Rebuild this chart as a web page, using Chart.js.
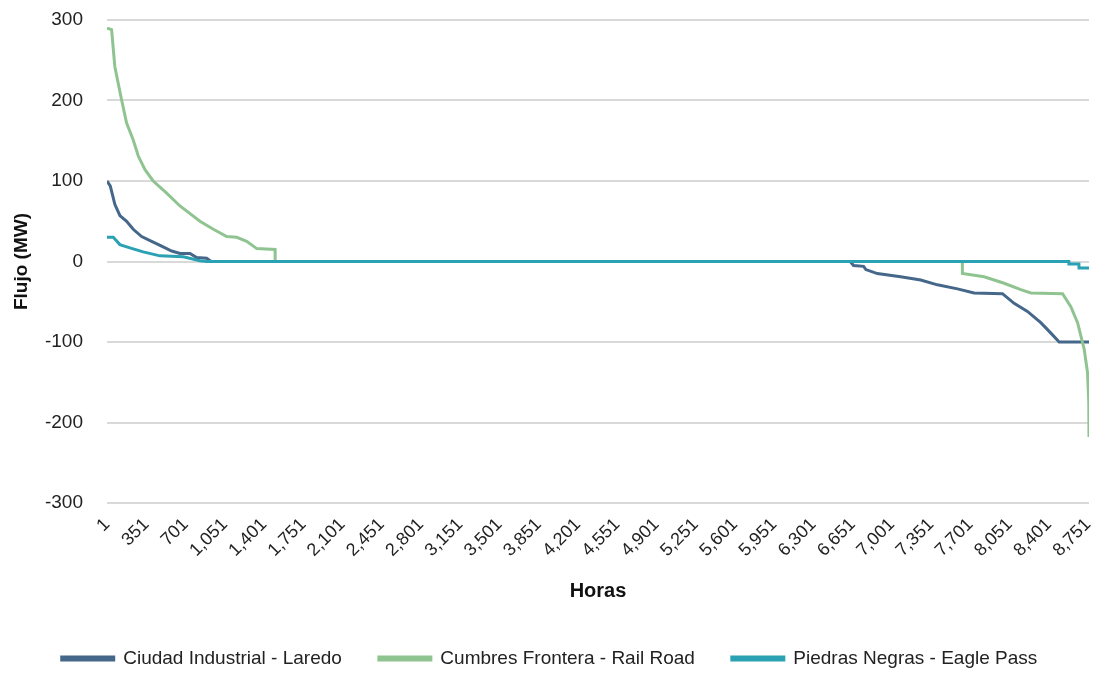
<!DOCTYPE html>
<html>
<head>
<meta charset="utf-8">
<script src="https://cdn.jsdelivr.net/npm/chart.js@4.4.1/dist/chart.umd.min.js"></script>
<style>
  html, body { margin: 0; padding: 0; background: #fff; }
  #wrap { width: 1093px; height: 673px; }
</style>
</head>
<body>
<div id="wrap"><canvas id="mycanvas" width="1093" height="673"></canvas></div>
<script>
// duration curves, hours vs MW
var ciudadHoras = [1, 30, 71, 116, 176, 235, 310, 399, 488, 578, 652, 741, 800, 890, 930, 6630, 6660, 6750, 6770, 6872, 7080, 7259, 7408, 7587, 7735, 7988, 8092, 8211, 8330, 8420, 8494, 8760];
var ciudadFlujo = [100, 94, 71, 57, 50, 40, 31, 25, 19, 13, 10, 10, 5, 4, 0, 0, -5, -6, -10, -15, -19, -23, -29, -34, -39, -40, -52, -62, -76, -89, -100, -100];

var cumbresHoras = [1, 42, 71, 131, 176, 235, 280, 340, 413, 533, 652, 830, 950, 1069, 1158, 1247, 1337, 1500, 1501, 7630, 7631, 7824, 8003, 8152, 8241, 8524, 8598, 8658, 8717, 8747, 8758, 8760];
var cumbresFlujo = [290, 288, 242, 201, 172, 151, 131, 114, 100, 85, 69, 50, 40, 31, 30, 25, 16, 15, 0, 0, -15, -19, -27, -35, -39, -40, -56, -76, -109, -138, -175, -218];

var piedrasHoras = [1, 57, 116, 205, 324, 473, 681, 830, 890, 8580, 8581, 8670, 8671, 8760];
var piedrasFlujo = [30, 30, 21, 17, 12, 7, 6, 1, 0, 0, -3, -3, -8, -8];

var tickHoras = [1, 351, 701, 1051, 1401, 1751, 2101, 2451, 2801, 3151, 3501, 3851, 4201, 4551, 4901, 5251, 5601, 5951, 6301, 6651, 7001, 7351, 7701, 8051, 8401, 8751];

function puntos(horas, flujo) {
	var pts = [];
	for (var i in horas) {
		pts.push({ x: horas[i], y: flujo[i] });
	}
	return pts;
}

var fuente = "'Liberation Sans', Arial, sans-serif";

var chartdata = {
	datasets: [
		{
			label: 'Ciudad Industrial - Laredo',
			data: puntos(ciudadHoras, ciudadFlujo),
			borderColor: '#44678a',
			backgroundColor: '#44678a',
			order: 2
		},
		{
			label: 'Cumbres Frontera - Rail Road',
			data: puntos(cumbresHoras, cumbresFlujo),
			borderColor: '#8fc490',
			backgroundColor: '#8fc490',
			order: 1
		},
		{
			label: 'Piedras Negras - Eagle Pass',
			data: puntos(piedrasHoras, piedrasFlujo),
			borderColor: '#2ba1b4',
			backgroundColor: '#2ba1b4',
			order: 0
		}
	]
};

var ctx = document.getElementById('mycanvas');
var grafica = new Chart(ctx, {
	type: 'line',
	data: chartdata,
	options: {
		responsive: false,
		animation: false,
		layout: { padding: { top: 20, right: 4, left: 10, bottom: -5 } },
		elements: {
			point: { radius: 0 },
			line: { borderWidth: 3, tension: 0 }
		},
		plugins: {
			tooltip: { enabled: false },
			legend: {
				position: 'bottom',
				labels: {
					boxWidth: 52,
					boxHeight: 3,
					padding: 37,
					color: '#222',
					font: { family: fuente, size: 19 },
					sort: function(a, b) { return a.datasetIndex - b.datasetIndex; }
				}
			}
		},
		scales: {
			x: {
				type: 'linear',
				min: 1,
				max: 8760,
				afterBuildTicks: function(axis) {
					axis.ticks = tickHoras.map(function(v) { return { value: v }; });
				},
				afterFit: function(axis) {
					axis.height = 109;
					axis.paddingRight = 0;
				},
				grid: { display: false },
				border: { display: false },
				ticks: {
					autoSkip: false,
					minRotation: 45,
					maxRotation: 45,
					color: '#222',
					font: { family: fuente, size: 18 },
					callback: function(v) { return v.toLocaleString('en-US'); }
				},
				title: {
					display: true,
					text: 'Horas',
					color: '#111',
					font: { family: fuente, size: 20, weight: 'bold' },
					padding: { top: 4, bottom: 9 }
				}
			},
			y: {
				min: -300,
				max: 300,
				afterFit: function(axis) {
					axis.width = 97;
					axis.paddingTop = 0;
					axis.paddingBottom = 0;
				},
				ticks: {
					stepSize: 100,
					padding: 24,
					color: '#222',
					font: { family: fuente, size: 19 }
				},
				grid: { color: '#d9d9d9', lineWidth: 2, drawTicks: false },
				border: { display: false },
				title: {
					display: true,
					text: 'Flujo (MW)',
					color: '#111',
					font: { family: fuente, size: 19, weight: 'bold' },
					padding: 0
				}
			}
		}
	}
});
</script>
</body>
</html>
